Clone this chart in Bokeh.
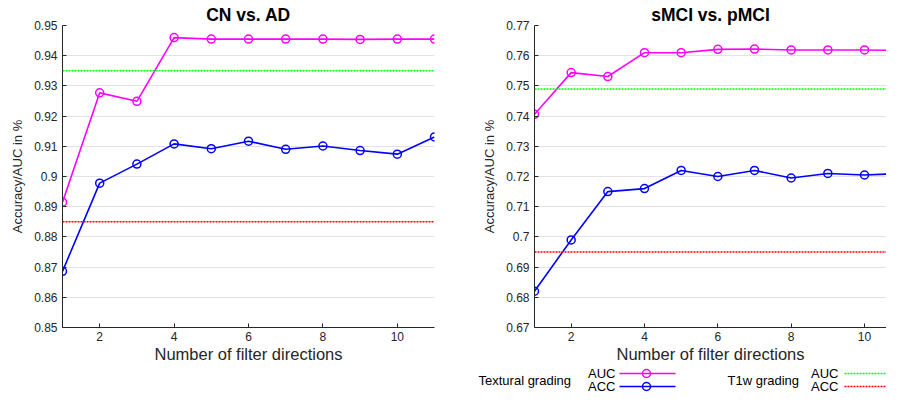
from bokeh.plotting import figure
from bokeh.layouts import row, column
from bokeh.models import Range1d, FixedTicker, Spacer, Span
from bokeh.core.properties import value
from bokeh.embed import file_html
from bokeh.resources import INLINE

# ---------------- data ----------------
directions = [1, 2, 3, 4, 5, 6, 7, 8, 9, 10, 11]

cn_ad_auc = [0.8915, 0.9277, 0.9249, 0.9460, 0.9455, 0.9455, 0.9455, 0.9455, 0.9454, 0.9455, 0.9455]
cn_ad_acc = [0.8686, 0.8978, 0.9041, 0.9108, 0.9092, 0.9117, 0.9090, 0.9101, 0.9086, 0.9074, 0.9131]
cn_ad_t1w_auc = 0.935
cn_ad_t1w_acc = 0.885

mci_auc = [0.7406, 0.7544, 0.7531, 0.7610, 0.7610, 0.7621, 0.7622, 0.7619, 0.7619, 0.7619, 0.7617]
mci_acc = [0.6820, 0.6990, 0.7150, 0.7160, 0.7220, 0.7200, 0.7220, 0.7195, 0.7210, 0.7205, 0.7210]
mci_t1w_auc = 0.749
mci_t1w_acc = 0.695

x_ticks = [2, 4, 6, 8, 10]
left_yticks = [0.85, 0.86, 0.87, 0.88, 0.89, 0.90, 0.91, 0.92, 0.93, 0.94, 0.95]
left_ylabels = ["0.85", "0.86", "0.87", "0.88", "0.89", "0.9", "0.91", "0.92", "0.93", "0.94", "0.95"]
right_yticks = [0.67, 0.68, 0.69, 0.70, 0.71, 0.72, 0.73, 0.74, 0.75, 0.76, 0.77]
right_ylabels = ["0.67", "0.68", "0.69", "0.7", "0.71", "0.72", "0.73", "0.74", "0.75", "0.76", "0.77"]

titles = ["CN vs. AD", "sMCI vs. pMCI"]
x_label = "Number of filter directions"
y_label = "Accuracy/AUC in %"

# ---------------- style ----------------
FONT = "Liberation Sans"
AXC = "#262626"
MAGENTA = "#FF00FF"
BLUE = "#0000FF"
GREEN = "#00FF00"
RED = "#FF0000"


def make_panel(title, auc, acc, t1w_auc, t1w_acc, yticks, ylabels, width, x_end,
               border_left, border_right):
    p = figure(width=width, height=366, output_backend="svg", toolbar_location=None,
               x_range=Range1d(1, x_end), y_range=Range1d(yticks[0], yticks[-1]),
               min_border_left=border_left, min_border_right=border_right,
               min_border_top=25, min_border_bottom=39, title=title)
    p.title.text_font = FONT
    p.title.text_font_size = "17.5px"
    p.title.text_font_style = "bold"
    p.title.text_color = "#000000"
    p.title.align = "center"
    p.title.standoff = 2
    p.outline_line_color = None
    p.xgrid.grid_line_color = None
    p.ygrid.grid_line_color = "#E3E3E3"
    p.ygrid.grid_line_width = 1

    p.xaxis.ticker = FixedTicker(ticks=x_ticks)
    p.yaxis.ticker = FixedTicker(ticks=yticks)
    p.yaxis.major_label_overrides = {t: l for t, l in zip(yticks, ylabels)}
    for ax in (p.xaxis, p.yaxis):
        ax.axis_line_color = AXC
        ax.major_tick_line_color = AXC
        ax.major_tick_in = 4
        ax.major_tick_out = 0
        ax.minor_tick_line_color = None
        ax.major_label_text_font = FONT
        ax.major_label_text_font_size = "12px"
        ax.major_label_text_color = AXC
        ax.axis_label_text_font = FONT
        ax.axis_label_text_font_style = "normal"
        ax.axis_label_text_color = AXC
    p.xaxis.axis_label = x_label
    p.xaxis.axis_label_text_font_size = "16.5px"
    p.xaxis.major_label_standoff = 4
    p.xaxis.axis_label_standoff = 1
    p.yaxis.axis_label = y_label
    p.yaxis.axis_label_text_font_size = "13px"
    p.yaxis.major_label_standoff = 5
    p.yaxis.axis_label_standoff = 6

    p.add_layout(Span(location=t1w_auc, dimension="width", line_color=GREEN,
                      line_dash="2 1", line_width=1.5))
    p.add_layout(Span(location=t1w_acc, dimension="width", line_color=RED,
                      line_dash="2 1", line_width=1.5))

    for ys, c in ((auc, MAGENTA), (acc, BLUE)):
        p.line(directions, ys, line_color=c, line_width=1.6)
        p.scatter(directions, ys, marker="circle", size=8, line_color=c,
                  fill_color=None, line_width=1.5)
    return p


p1 = make_panel(titles[0], cn_ad_auc, cn_ad_acc, cn_ad_t1w_auc, cn_ad_t1w_acc,
                left_yticks, left_ylabels, 479, 11, 62, 45)
p2 = make_panel(titles[1], mci_auc, mci_acc, mci_t1w_auc, mci_t1w_acc,
                right_yticks, right_ylabels, 407, 10.6, 55, 0)

# ---------------- legend ----------------
LEG_W, LEG_H = 418, 28
leg = figure(width=LEG_W, height=LEG_H, output_backend="svg", toolbar_location=None,
             x_range=Range1d(0, LEG_W), y_range=Range1d(LEG_H, 0),
             x_axis_type=None, y_axis_type=None, min_border=0)
leg.outline_line_color = None
leg.grid.grid_line_color = None

leg.text(x=[10, 259], y=[14, 14], text=["Textural grading", "T1w grading"],
         text_font=value(FONT), text_font_size="13px", text_color="#000000",
         text_align="left", text_baseline="middle")
leg.text(x=[147, 147, 370, 370], y=[7, 20, 7, 20], text=["AUC", "ACC", "AUC", "ACC"],
         text_font=value(FONT), text_font_size="13px", text_color="#000000",
         text_align="right", text_baseline="middle")
leg.line(x=[151, 207], y=[7, 7], line_color=MAGENTA, line_width=1.6)
leg.line(x=[151, 207], y=[20, 20], line_color=BLUE, line_width=1.6)
leg.scatter(x=[178, 178], y=[7, 20], marker="circle", size=8,
            line_color=[MAGENTA, BLUE], fill_color=None, line_width=1.5)
leg.line(x=[376, LEG_W], y=[7, 7], line_color=GREEN, line_width=1.5, line_dash="2 1")
leg.line(x=[376, LEG_W], y=[20, 20], line_color=RED, line_width=1.5, line_dash="2 1")

layout = column(row(p1, p2), row(Spacer(width=468, height=LEG_H), leg))

open("out.html", "w").write(file_html(layout, INLINE))
